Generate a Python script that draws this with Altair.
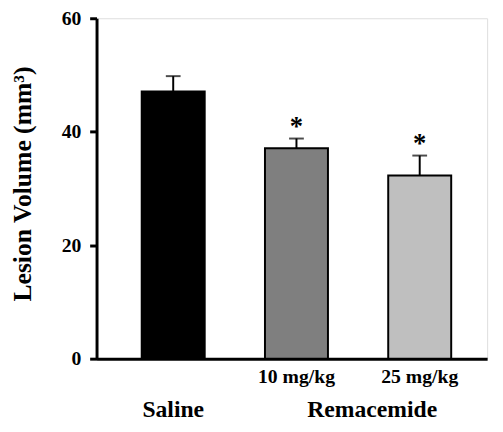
import altair as alt
import pandas as pd

groups = ["Saline", "10 mg/kg", "25 mg/kg"]
means = [47.1, 37.1, 32.3]
upper = [49.8, 38.8, 35.8]
fills = ["#000000", "#7f7f7f", "#bfbfbf"]
stars = ["", "*", "*"]
y_ticks = [0, 20, 40, 60]

df = pd.DataFrame({"group": groups, "mean": means, "upper": upper, "star": stars})

W, H = 397, 346
FONT = "Liberation Serif"

xscale = alt.Scale(domain=groups, paddingInner=0.489, paddingOuter=0.329, align=0.557)
yscale = alt.Scale(domain=[0, 60], nice=False)

x = alt.X("group:N", scale=xscale, sort=groups, axis=alt.Axis(
    title=None, ticks=False, domainWidth=3, domainColor="black",
    labelExpr="datum.value == 'Saline' ? '' : datum.value",
    labelFont=FONT, labelFontWeight="bold", labelFontSize=20, labelColor="black",
    labelBaseline="alphabetic", labelPadding=24, labelAngle=0))
y = alt.Y("mean:Q", scale=yscale, axis=alt.Axis(
    values=y_ticks, grid=False, tickSize=7, tickWidth=3, tickColor="black",
    domainWidth=3, domainColor="black",
    labelFont=FONT, labelFontWeight="bold", labelFontSize=20, labelColor="black",
    labelPadding=9,
    title="Lesion Volume (mm³)", titleFont=FONT, titleFontWeight="bold", titleFontSize=26,
    titleColor="black", titleAngle=-90, titleX=-67, titleY=168, titleAlign="center",
    titleBaseline="alphabetic"))

base = alt.Chart(df)

bars = base.mark_bar(stroke="black", strokeWidth=2).encode(
    x=x, y=y,
    color=alt.Color("group:N", scale=alt.Scale(domain=groups, range=fills), legend=None))

err = base.mark_rule(color="black", strokeWidth=2).encode(
    x=alt.X("group:N", scale=xscale, sort=groups),
    y=alt.Y("mean:Q", scale=yscale), y2="upper:Q")

cap = base.mark_tick(color="black", size=15, thickness=2).encode(
    x=alt.X("group:N", scale=xscale, sort=groups),
    y=alt.Y("upper:Q", scale=yscale))

star = base.mark_text(font=FONT, fontWeight="bold", fontSize=27, dy=-4, baseline="alphabetic",
                      color="black").encode(
    x=alt.X("group:N", scale=xscale, sort=groups),
    y=alt.Y("upper:Q", scale=yscale), text="star:N")

lab1 = alt.Chart(pd.DataFrame({"group": ["Saline"], "t": ["Saline"]})).mark_text(
    font=FONT, fontWeight="bold", fontSize=24, baseline="alphabetic", color="black").encode(
    x=alt.X("group:N", scale=xscale, sort=groups), y=alt.value(H + 59), text="t:N")

lab2 = alt.Chart(pd.DataFrame({"group": ["10 mg/kg"], "t": ["Remacemide"]})).mark_text(
    font=FONT, fontWeight="bold", fontSize=24, baseline="alphabetic", color="black", dx=77).encode(
    x=alt.X("group:N", scale=xscale, sort=groups), y=alt.value(H + 59), text="t:N")

chart = alt.layer(bars, err, cap, star, lab1, lab2).properties(
    width=W, height=H,
    autosize=alt.AutoSizeParams(type="none"),
    padding={"left": 90, "top": 7, "right": 8, "bottom": 65},
).configure_view(stroke=None).configure(background="white")

chart.save("out.html", embed_options={"renderer": "svg", "actions": False})
